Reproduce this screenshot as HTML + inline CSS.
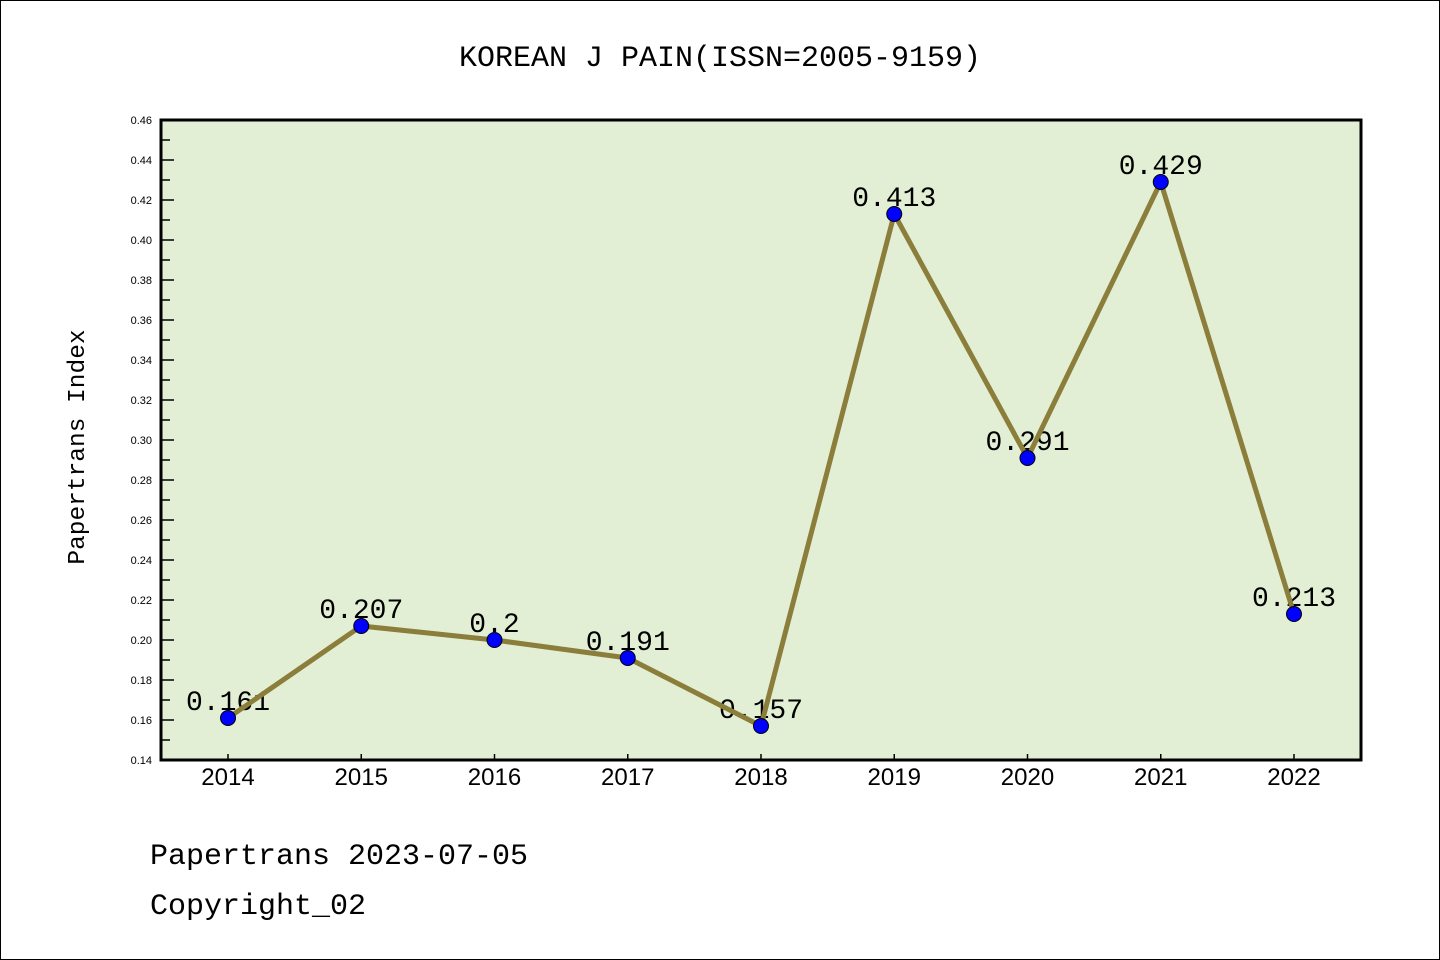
<!DOCTYPE html>
<html><head><meta charset="utf-8"><style>
html,body{margin:0;padding:0;background:#fff}
svg{display:block}
text{font-family:"Liberation Mono","DejaVu Sans Mono",monospace}
text.sans{font-family:"Liberation Sans","DejaVu Sans",sans-serif}
</style></head><body>
<svg id="c" width="1440" height="960" xmlns="http://www.w3.org/2000/svg">
<rect x="0.5" y="0.5" width="1439" height="959" fill="#fff" stroke="#000"/>
<text x="720" y="66" text-anchor="middle" font-size="30">KOREAN J PAIN(ISSN=2005-9159)</text>
<rect x="161" y="120" width="1200" height="640" fill="#e2efd5"/>
<g id="yaxis"></g>
<g id="xaxis"></g>
<g id="labels"></g>
<g id="series"></g>
<rect x="161" y="120" width="1200" height="640" fill="none" stroke="#000" stroke-width="3"/>
<text transform="translate(84,447) rotate(-90)" text-anchor="middle" font-size="24.5">Papertrans Index</text>
<text x="150" y="864" font-size="30">Papertrans 2023-07-05</text>
<text x="150" y="914" font-size="30">Copyright_02</text>
</svg>
<script>
const years = ["2014","2015","2016","2017","2018","2019","2020","2021","2022"];
const values = [0.161,0.207,0.2,0.191,0.157,0.413,0.291,0.429,0.213];
const valueLabels = ["0.161","0.207","0.2","0.191","0.157","0.413","0.291","0.429","0.213"];
const yTicks = [0.14,0.16,0.18,0.20,0.22,0.24,0.26,0.28,0.30,0.32,0.34,0.36,0.38,0.40,0.42,0.44,0.46];
const NS="http://www.w3.org/2000/svg";
const yMin=0.14,yMax=0.46,plotTop=120,plotBot=760;
function yS(v){return plotBot-(v-yMin)/(yMax-yMin)*(plotBot-plotTop);}
function xS(i){return 228+i*(1294-228)/(years.length-1);}
function mk(t,a,p){const e=document.createElementNS(NS,t);for(const k in a)e.setAttribute(k,a[k]);p.appendChild(e);return e;}
const ya=document.getElementById('yaxis');
yTicks.forEach((v,i)=>{
  const t=mk('line',{x1:161,x2:174,y1:yS(v),y2:yS(v),stroke:'#000','stroke-width':1.5},ya);
  
  
  if(i<yTicks.length-1){
    const m=mk('line',{x1:161,x2:170,y1:yS(v+0.01),y2:yS(v+0.01),stroke:'#000','stroke-width':1.5},ya);
    
    
  }
  const l=mk('text',{x:152,y:yS(v)+4,'text-anchor':'end','font-size':11,'class':'sans'},ya);
  l.textContent=v.toFixed(2);
  
  
});
const xa=document.getElementById('xaxis');
years.forEach((yr,i)=>{
  const t=mk('line',{x1:xS(i),x2:xS(i),y1:754,y2:760,stroke:'#000','stroke-width':1.5},xa);
  
  
  const l=mk('text',{x:xS(i),y:785,'text-anchor':'middle','font-size':24,'class':'sans'},xa);
  l.textContent=yr;
  
  
});
const lb=document.getElementById('labels');
values.forEach((v,i)=>{
  const l=mk('text',{x:xS(i),y:yS(v)-8,'text-anchor':'middle','font-size':28},lb);
  l.textContent=valueLabels[i];
  
  
});
const s=document.getElementById('series');
const pl=mk('polyline',{points:values.map((v,i)=>xS(i)+','+yS(v)).join(' '),fill:'none',stroke:'#8b7d3a','stroke-width':5,'stroke-linejoin':'round'},s);


values.forEach((v,i)=>{
  const c=mk('circle',{cx:xS(i),cy:yS(v),r:7.5,fill:'#0000ff',stroke:'#000','stroke-width':1},s);
  
  
});
</script>
</body></html>
